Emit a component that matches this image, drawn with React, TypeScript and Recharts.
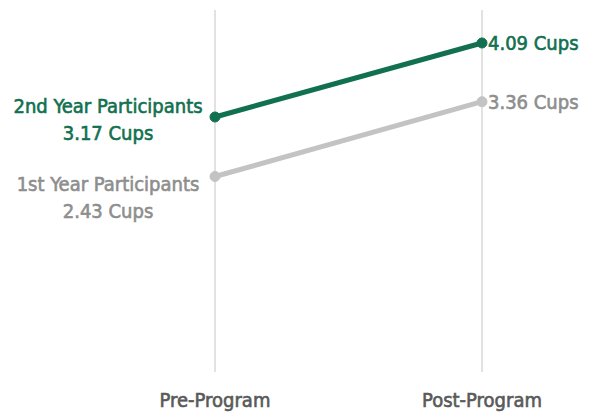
import { LineChart, Line, XAxis, YAxis, CartesianGrid, LabelList } from 'recharts';

const stages = ['Pre-Program', 'Post-Program'];
const secondYear = [3.17, 4.09];
const firstYear = [2.43, 3.36];
const seriesNames = { second: '2nd Year Participants', first: '1st Year Participants' };

const GREEN = '#11704f';
const GRAY_LINE = '#c3c3c3';
const GRAY_TEXT = '#8e8e8e';
const AXIS_TEXT = '#595959';
const FONT = '"DejaVu Sans Condensed", Roboto, sans-serif';
const textStyle = { fontStretch: 'condensed' as const };

const data = stages.map((stage, i) => ({ stage, second: secondYear[i], first: firstYear[i] }));

// label on each end: name + value on the left point, value only on the right point
const makeLabel = (name: string, color: string, leftDy: number) => (props: any) => {
  const { x, y, value, index } = props;
  const common = { fill: color, stroke: color, strokeWidth: 0.6, fontSize: 20, fontFamily: FONT, style: textStyle };
  if (index === 0) {
    return (
      <text x={x - 107} y={y + leftDy} textAnchor="middle" {...common}>
        <tspan x={x - 107} dy={0}>{name}</tspan>
        <tspan x={x - 107} dy={27}>{value.toFixed(2)} Cups</tspan>
      </text>
    );
  }
  return (
    <text x={x + 6} y={y + 7} textAnchor="start" {...common}>
      {value.toFixed(2)} Cups
    </text>
  );
};

const App = () => (
  <div style={{ position: 'absolute', left: 0, top: 0, background: '#fff' }}>
    <LineChart width={600} height={417} data={data} margin={{ top: 10, right: 118, bottom: 15, left: 215 }}>
      <CartesianGrid horizontal={false} stroke="#d9d9d9" strokeWidth={1.5} />
      <XAxis
        dataKey="stage"
        height={30}
        axisLine={false}
        tickLine={false}
        tickMargin={15}
        interval={0}
        tick={{ fill: AXIS_TEXT, stroke: AXIS_TEXT, strokeWidth: 0.6, fontSize: 20, fontFamily: FONT, style: textStyle }}
      />
      <YAxis hide domain={[0, 4.5]} />
      <Line dataKey="first" stroke={GRAY_LINE} strokeWidth={5} dot={{ r: 5, fill: GRAY_LINE, stroke: GRAY_LINE, strokeWidth: 1 }} isAnimationActive={false}>
        <LabelList dataKey="first" content={makeLabel(seriesNames.first, GRAY_TEXT, 14)} />
      </Line>
      <Line dataKey="second" stroke={GREEN} strokeWidth={5} dot={{ r: 5, fill: GREEN, stroke: GREEN, strokeWidth: 1 }} isAnimationActive={false}>
        <LabelList dataKey="second" content={makeLabel(seriesNames.second, GREEN, -4)} />
      </Line>
    </LineChart>
  </div>
);

export default App;
